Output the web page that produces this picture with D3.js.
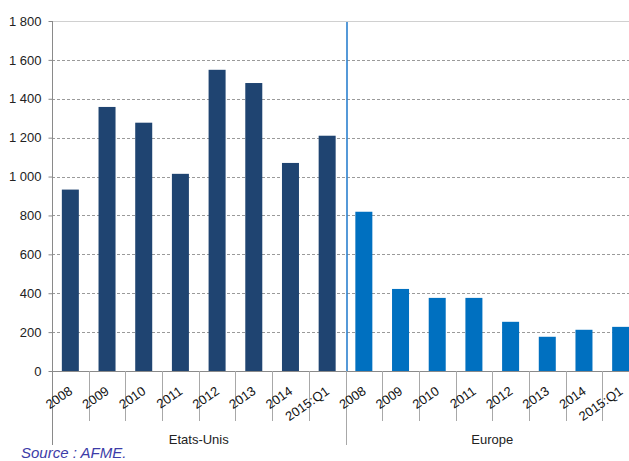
<!DOCTYPE html>
<html>
<head>
<meta charset="utf-8">
<script src="https://cdn.jsdelivr.net/npm/d3@7"></script>
<style>
  html, body { margin: 0; padding: 0; background: #fff; }
  svg { display: block; font-family: "Liberation Sans", Arial, sans-serif; }
</style>
</head>
<body>
<svg id="chart" width="629" height="461"></svg>
<script>
// Bond issuance volumes, United States vs Europe
const years = ["2008", "2009", "2010", "2011", "2012", "2013", "2014", "2015:Q1"];
const groups = ["Etats-Unis", "Europe"];
const usValues = [933, 1358, 1277, 1014, 1549, 1481, 1070, 1210];
const europeValues = [819, 422, 376, 376, 253, 176, 212, 227];
const yTicks = [0, 200, 400, 600, 800, 1000, 1200, 1400, 1600, 1800];
const groupColors = ["#1f4471", "#0070c0"];

const rows = [];
groups.forEach((g, gi) => {
  const vals = gi === 0 ? usValues : europeValues;
  years.forEach((yr, i) => rows.push({ key: g + "|" + yr, group: g, gi, year: yr, value: vals[i] }));
});

const svg = d3.select("#chart");
const plotLeft = 52, plotRight = 639, plotTop = 21, plotBottom = 371;

const x = d3.scaleBand().domain(rows.map(d => d.key)).range([plotLeft, plotRight]).paddingInner(0).paddingOuter(0);
const y = d3.scaleLinear().domain([0, 1800]).range([plotBottom, plotTop]);
const fmt = v => d3.format(",")(v).replace(/,/g, " ");

// Horizontal gridlines
svg.append("g").selectAll("line").data(yTicks.filter(t => t > 0)).join("line")
  .attr("x1", plotLeft).attr("x2", 629)
  .attr("y1", d => Math.round(y(d)) + 0.5).attr("y2", d => Math.round(y(d)) + 0.5)
  .attr("stroke", d => d === 1800 ? "#d0d0d0" : "#9a9a9a")
  .attr("stroke-width", 1)
  .attr("stroke-dasharray", d => d === 1800 ? null : "3,2");

// Y axis
const yAxis = d3.axisLeft(y).tickValues(yTicks).tickSize(4).tickFormat(fmt);
const yg = svg.append("g").attr("transform", `translate(${plotLeft + 0.5},0)`).call(yAxis);
yg.select(".domain").attr("stroke", "#8a8a8a").attr("d", `M0,${plotTop}V${445}`);
yg.selectAll(".tick line").attr("stroke", "#8a8a8a");
yg.selectAll(".tick text").attr("fill", "#222").attr("font-size", 13)
  .attr("font-family", "'Liberation Sans', Arial, sans-serif").attr("x", -11);

// Bars
const bw = 17;
svg.append("g").selectAll("rect").data(rows).join("rect")
  .attr("x", d => x(d.key) + x.bandwidth() / 2 - bw / 2)
  .attr("y", d => y(d.value))
  .attr("width", bw)
  .attr("height", d => y(0) - y(d.value))
  .attr("fill", d => groupColors[d.gi]);

// Bottom axis line
svg.append("line").attr("x1", plotLeft).attr("x2", 629)
  .attr("y1", plotBottom + 0.5).attr("y2", plotBottom + 0.5).attr("stroke", "#8a8a8a");

// Category boundary ticks
const boundaries = rows.map(d => x(d.key)).concat([plotRight]);
svg.append("g").selectAll("line").data(boundaries.filter((b, i) => i % 8 !== 0)).join("line")
  .attr("x1", d => Math.round(d) + 0.5).attr("x2", d => Math.round(d) + 0.5)
  .attr("y1", plotBottom).attr("y2", 421)
  .attr("stroke", "#a8a8a8");
// Group boundary tick
svg.append("g").selectAll("line").data([x(rows[8].key)]).join("line")
  .attr("x1", d => Math.round(d) + 0.5).attr("x2", d => Math.round(d) + 0.5)
  .attr("y1", plotBottom).attr("y2", 445)
  .attr("stroke", "#a8a8a8");

// Separator between the two regions
const sepX = x(rows[8].key) + 1.5;
svg.append("line").attr("x1", sepX).attr("x2", sepX)
  .attr("y1", plotTop + 1).attr("y2", plotBottom)
  .attr("stroke", "#2b80cf").attr("stroke-width", 1.6);

// Year labels, rotated
svg.append("g").selectAll("text").data(rows).join("text")
  .attr("transform", d => `translate(${x(d.key) + x.bandwidth() / 2 + 3},${plotBottom + 22}) rotate(-35)`)
  .attr("text-anchor", "end")
  .attr("font-size", 13)
  .attr("fill", "#111")
  .text(d => d.year);

// Group labels
svg.append("g").selectAll("text").data(groups).join("text")
  .attr("x", (g, gi) => (x(rows[gi * 8].key) + (gi === 0 ? x(rows[8].key) : plotRight)) / 2)
  .attr("y", 444)
  .attr("text-anchor", "middle")
  .attr("font-size", 13)
  .attr("fill", "#222")
  .text(d => d);

// Source note
svg.append("text").attr("x", 21).attr("y", 458)
  .attr("font-size", 15).attr("font-style", "italic").attr("fill", "#3c3ca8")
  .text("Source : AFME.");
</script>
</body>
</html>
